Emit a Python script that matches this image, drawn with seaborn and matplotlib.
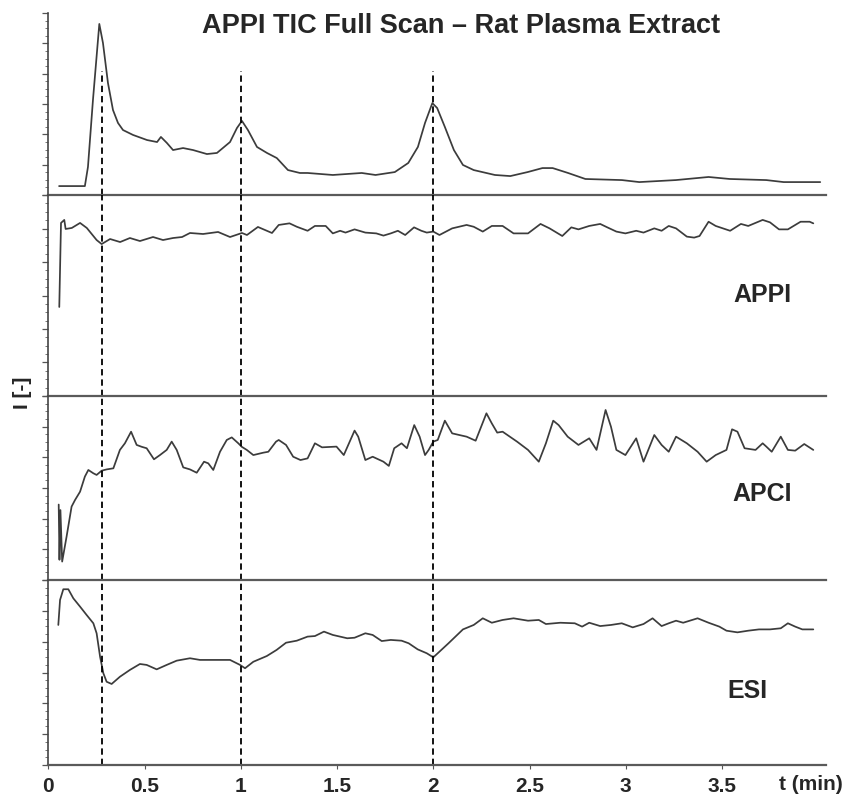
import numpy as np
import pandas as pd
import matplotlib.pyplot as plt
import seaborn as sns
from matplotlib.ticker import MultipleLocator

sns.set_style('white')
plt.rcParams['font.family'] = ['Liberation Sans', 'DejaVu Sans']
plt.rcParams['font.weight'] = 'bold'
plt.rcParams['lines.solid_joinstyle'] = 'round'

# --- data (time in min, intensity in arbitrary units per trace) ---
tic_t = [0.056, 0.19, 0.206, 0.232, 0.265, 0.284, 0.31, 0.336, 0.362, 0.388, 0.44, 0.513,
         0.565, 0.585, 0.616, 0.648, 0.70, 0.752, 0.824, 0.876, 0.944, 0.98, 1.006, 1.037,
         1.084, 1.136, 1.187, 1.245, 1.307, 1.347, 1.478, 1.628, 1.70, 1.80, 1.87, 1.92,
         1.957, 1.995, 2.02, 2.06, 2.107, 2.154, 2.21, 2.32, 2.40, 2.49, 2.567, 2.62, 2.70,
         2.79, 2.98, 3.07, 3.26, 3.43, 3.54, 3.73, 3.82, 4.01]
tic_i = [4.9, 4.9, 15.4, 52.2, 94.0, 83.5, 61.5, 46.7, 39.6, 35.7, 33.0, 30.2,
         29.1, 31.9, 28.6, 24.7, 25.8, 24.7, 22.5, 23.1, 29.1, 36.8, 40.7, 35.7,
         26.4, 23.1, 20.3, 13.7, 12.1, 12.1, 11.0, 12.1, 11.0, 12.6, 17.6, 26.4,
         39.6, 50.5, 47.8, 37.4, 24.7, 16.5, 13.7, 11.0, 10.4, 12.6, 14.8, 14.8, 12.1,
         8.8, 8.2, 7.1, 8.2, 9.9, 8.8, 8.2, 7.1, 7.1]

appi_t = [0.057, 0.066, 0.083, 0.09, 0.122, 0.165, 0.2, 0.251, 0.277, 0.321, 0.373, 0.424,
          0.476, 0.544, 0.596, 0.648, 0.695, 0.736, 0.804, 0.882, 0.944, 1.006, 1.032, 1.089,
          1.162, 1.197, 1.253, 1.291, 1.347, 1.385, 1.441, 1.478, 1.516, 1.544, 1.591, 1.647,
          1.704, 1.741, 1.779, 1.816, 1.854, 1.90, 1.938, 1.966, 2.0, 2.032, 2.098, 2.173,
          2.21, 2.257, 2.304, 2.36, 2.417, 2.492, 2.557, 2.604, 2.67, 2.717, 2.754, 2.81,
          2.867, 2.904, 2.951, 2.998, 3.054, 3.092, 3.148, 3.186, 3.223, 3.261, 3.317, 3.355,
          3.383, 3.43, 3.467, 3.542, 3.598, 3.636, 3.711, 3.749, 3.796, 3.842, 3.908, 3.955,
          3.974]
appi_i = [44.3, 86.1, 87.6, 83.1, 83.6, 86.1, 83.6, 77.6, 75.6, 78.1, 76.6, 78.6,
          77.1, 79.1, 77.6, 78.6, 79.1, 81.1, 80.6, 81.6, 79.1, 81.1, 80.1, 84.1,
          81.1, 85.1, 85.9, 84.2, 82.2, 84.6, 84.6, 80.9, 82.2, 81.3, 82.9, 81.3,
          80.9, 79.8, 80.9, 82.2, 80.1, 83.9, 82.2, 81.3, 81.8, 80.1, 83.4, 85.1,
          84.2, 81.8, 84.6, 84.6, 80.9, 80.9, 85.6, 83.4, 79.6, 83.9, 82.9, 84.6,
          85.6, 83.9, 81.8, 80.9, 82.2, 81.3, 83.4, 82.2, 84.6, 83.4, 79.3, 78.8,
          79.6, 86.7, 84.6, 82.2, 85.6, 84.6, 87.6, 86.4, 82.9, 82.9, 86.7, 86.7,
          85.9]

apci_t = [0.054, 0.058, 0.063, 0.072, 0.095, 0.121, 0.139, 0.165, 0.19, 0.208, 0.234, 0.251,
          0.277, 0.303, 0.338, 0.372, 0.398, 0.43, 0.459, 0.485, 0.511, 0.549, 0.58, 0.615,
          0.641, 0.667, 0.701, 0.736, 0.771, 0.809, 0.831, 0.857, 0.892, 0.927, 0.953, 0.987,
          1.005, 1.031, 1.065, 1.117, 1.143, 1.183, 1.197, 1.235, 1.272, 1.31, 1.347, 1.385,
          1.422, 1.497, 1.535, 1.591, 1.61, 1.647, 1.685, 1.741, 1.769, 1.797, 1.835, 1.863,
          1.901, 1.929, 1.957, 1.976, 2.0, 2.023, 2.06, 2.098, 2.135, 2.173, 2.22, 2.276,
          2.304, 2.332, 2.36, 2.435, 2.492, 2.548, 2.585, 2.623, 2.651, 2.698, 2.754, 2.81,
          2.848, 2.895, 2.923, 2.951, 2.998, 3.054, 3.092, 3.148, 3.186, 3.223, 3.261, 3.317,
          3.373, 3.42, 3.467, 3.523, 3.552, 3.58, 3.617, 3.674, 3.711, 3.73, 3.758, 3.805,
          3.842, 3.88, 3.927, 3.974]
apci_i = [41.0, 11.0, 38.0, 10.0, 23.6, 39.9, 43.5, 48.0, 56.2, 59.8, 58.0, 57.1,
          59.4, 60.1, 60.7, 70.7, 74.3, 80.6, 73.4, 72.4, 71.6, 65.6, 67.9, 70.7,
          75.2, 70.7, 61.2, 60.1, 58.3, 64.3, 63.4, 59.8, 69.7, 76.1, 77.5, 74.3,
          72.4, 70.7, 67.9, 69.2, 69.7, 75.2, 76.1, 73.4, 67.0, 65.2, 66.1, 74.3,
          72.1, 72.5, 67.9, 81.2, 77.9, 65.2, 67.0, 64.3, 62.0, 71.6, 74.3, 71.6,
          84.2, 77.9, 67.9, 70.7, 75.2, 76.1, 86.6, 79.7, 78.8, 77.9, 75.7, 90.6,
          85.1, 80.1, 80.6, 75.2, 70.7, 64.3, 74.3, 86.6, 84.2, 77.9, 73.4, 77.0,
          70.7, 92.4, 83.3, 70.7, 67.9, 77.0, 64.3, 78.8, 73.4, 69.7, 77.9, 74.3,
          69.7, 64.3, 67.9, 70.7, 81.9, 80.6, 71.6, 70.7, 74.3, 72.5, 69.7, 77.9,
          70.7, 70.3, 73.9, 70.7]

esi_t = [0.052, 0.061, 0.078, 0.104, 0.13, 0.165, 0.199, 0.234, 0.251, 0.269, 0.286, 0.303,
         0.329, 0.372, 0.424, 0.476, 0.511, 0.563, 0.615, 0.667, 0.736, 0.788, 0.875, 0.944,
         0.996, 1.022, 1.065, 1.135, 1.186, 1.235, 1.291, 1.347, 1.385, 1.432, 1.478, 1.553,
         1.591, 1.647, 1.685, 1.732, 1.779, 1.835, 1.872, 1.919, 1.966, 2.0, 2.023, 2.079,
         2.154, 2.21, 2.257, 2.304, 2.36, 2.417, 2.492, 2.548, 2.585, 2.66, 2.735, 2.773,
         2.81, 2.867, 2.923, 2.979, 3.036, 3.092, 3.139, 3.186, 3.223, 3.261, 3.298, 3.373,
         3.43, 3.486, 3.523, 3.58, 3.636, 3.692, 3.749, 3.805, 3.842, 3.88, 3.917, 3.974]
esi_i = [75.7, 89.2, 95.0, 95.0, 90.1, 85.6, 81.1, 76.6, 71.2, 58.5, 49.6, 45.0,
         43.8, 47.7, 51.4, 54.6, 54.1, 51.7, 54.1, 56.4, 57.7, 56.8, 56.8, 56.8,
         54.1, 52.3, 55.8, 58.9, 62.2, 66.1, 67.2, 69.4, 69.7, 72.1, 70.3, 68.5,
         68.8, 71.2, 70.3, 67.0, 67.6, 67.2, 65.8, 62.5, 60.4, 58.2, 60.4, 65.8,
         73.3, 75.7, 79.3, 76.9, 78.4, 79.3, 78.0, 78.4, 76.2, 76.9, 76.6, 74.8,
         76.9, 75.1, 75.7, 76.6, 74.4, 76.2, 79.3, 75.1, 76.6, 78.0, 76.9, 79.3,
         76.9, 74.8, 72.6, 71.7, 72.6, 73.3, 73.3, 73.9, 76.6, 74.8, 73.3, 73.3]

marker_times = [0.28, 1.0, 2.0]
x_ticks = [0, 0.5, 1, 1.5, 2, 2.5, 3, 3.5]
x_labels = ['0', '0.5', '1', '1.5', '2', '2.5', '3', '3.5']

traces = [('TIC', tic_t, tic_i, None),
          ('APPI', appi_t, appi_i, (3.71, 50)),
          ('APCI', apci_t, apci_i, (3.71, 47)),
          ('ESI', esi_t, esi_i, (3.63, 40))]

# --- layout (pixels of an 847x799 canvas) ---
W, H = 847, 799
x0, x1 = 48.3, 826
bounds = [(13, 195), (195, 396), (396, 580), (580, 765)]
xmax = (x1 - x0) / 192.5

fig = plt.figure(figsize=(W / 100, H / 100), dpi=100)
fig.patch.set_facecolor('white')

for k, ((name, t, y, lab), (top, bot)) in enumerate(zip(traces, bounds)):
    ax = fig.add_axes([x0 / W, 1 - bot / H, (x1 - x0) / W, (bot - top) / H])
    df = pd.DataFrame({'t': t, 'I': y})
    sns.lineplot(data=df, x='t', y='I', ax=ax, color='#3c3c3c', lw=1.25,
                 estimator=None, sort=False)
    ax.set_xlim(0, xmax)
    ax.set_ylim(0, 100)
    ax.set_xlabel('')
    ax.set_ylabel('')
    for s in ['top', 'right']:
        ax.spines[s].set_visible(False)
    ax.spines['left'].set_color('#444444')
    ax.spines['left'].set_linewidth(1.2)
    ax.spines['bottom'].set_color('#5a5a5a')
    ax.spines['bottom'].set_linewidth(1.6)
    ax.yaxis.set_major_locator(MultipleLocator(100 / 6))
    ax.yaxis.set_minor_locator(MultipleLocator(100 / 24))
    ax.tick_params(axis='y', which='major', direction='out', length=4, width=0.9,
                   color='#555555', labelleft=False, left=True)
    ax.tick_params(axis='y', which='minor', direction='out', length=2, width=0.7,
                   color='#777777', left=True)
    ax.set_yticklabels([])
    if k < 3:
        ax.set_xticks([])
    else:
        ax.set_xticks(x_ticks)
        ax.set_xticklabels(x_labels, fontsize=15, fontweight='bold')
        ax.tick_params(axis='x', direction='out', length=3, width=0.8,
                       color='#555555', pad=6, bottom=True)
    for m in marker_times:
        ax.axvline(m, ymin=0, ymax=0.68 if k == 0 else 1.0, color='black',
                   lw=1.3, ls=(0, (3.5, 2.2)))
    if lab is not None:
        ax.text(lab[0], lab[1], name, fontsize=18, fontweight='bold',
                ha='center', va='center')
    ax.set_facecolor('none')

fig.text(461 / W, 1 - 26 / H, 'APPI TIC Full Scan \u2013 Rat Plasma Extract',
         fontsize=19.5, fontweight='bold', ha='center', va='center')
fig.text(22 / W, 1 - 393 / H, 'I [-]', rotation=90, fontsize=15,
         fontweight='bold', ha='center', va='center')
fig.text(843 / W, 1 - 784 / H, 't (min)', fontsize=15, fontweight='bold',
         ha='right', va='center')

fig.savefig('out.png', dpi=100, facecolor='white')
